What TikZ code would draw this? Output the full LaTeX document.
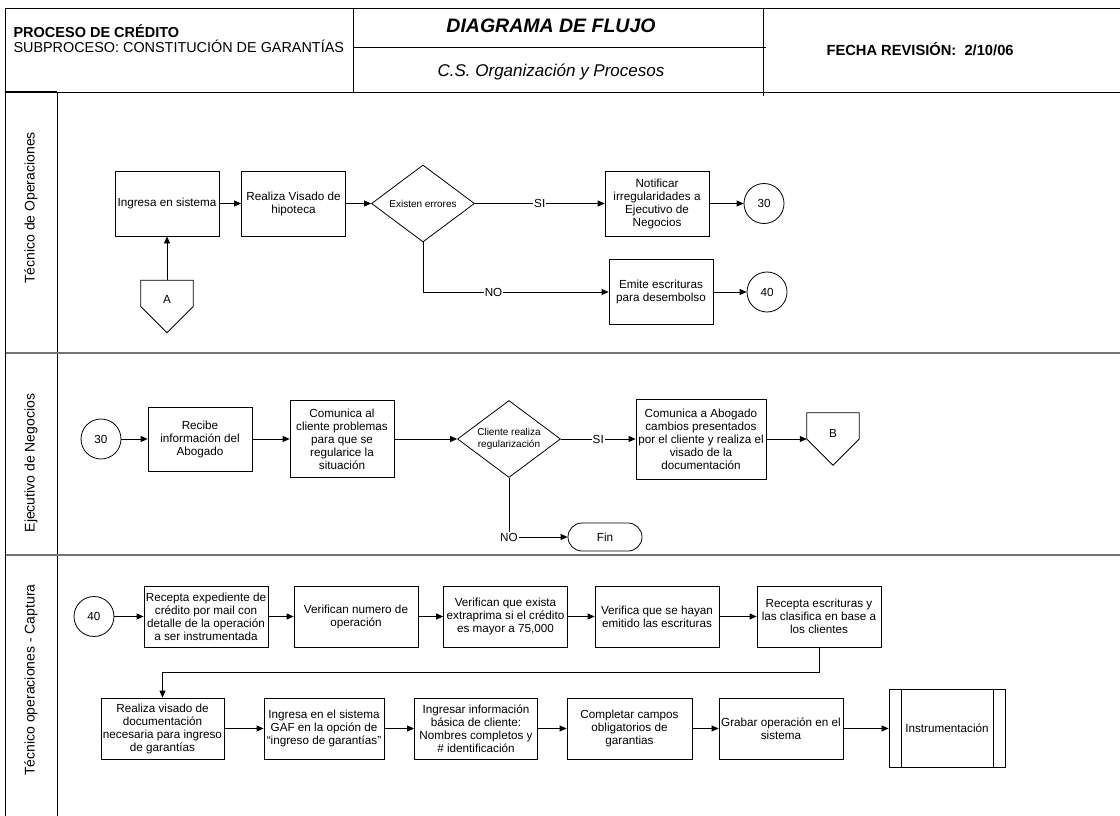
\documentclass[tikz,border=0pt]{standalone}
\usepackage{fontspec}
\setmainfont{Liberation Sans}
\usetikzlibrary{arrows.meta,shapes.geometric,calc}

\begin{document}
\begin{tikzpicture}[x=1pt,y=-1pt,
  font=\fontsize{11.7}{13}\selectfont,
  frame/.style={line width=0.9pt},
  laneline/.style={line width=2pt, draw=black!55},
  flow/.style={-{Triangle[length=7pt,width=6pt]}, line width=0.8pt},
  box/.style={draw, line width=0.8pt, align=center, inner sep=1pt},
  conn/.style={draw, circle, line width=0.8pt, minimum size=40pt, inner sep=0pt},
  decision/.style={draw, diamond, aspect=1.33, inner sep=0pt, line width=0.8pt,
    minimum width=103pt, minimum height=77pt, align=center,
    font=\fontsize{10}{12}\selectfont},
  offpage/.style={minimum width=52pt, minimum height=52pt, inner sep=0pt},
  term/.style={draw, rounded corners=14pt, minimum width=74pt, minimum height=28pt, line width=0.8pt},
  predef/.style={draw, minimum width=116pt, minimum height=78pt, line width=0.8pt},
  lab/.style={fill=white, inner sep=1pt},
  lanetext/.style={rotate=90, font=\fontsize{14}{16}\selectfont},
]
\useasboundingbox (0,0) rectangle (1120,816);

% ---------- header ----------
\draw[frame] (1120,8.5) -- (5.5,8.5) -- (5.5,816);
\draw[frame] (5.5,92) -- (1120,92);
\draw[frame] (353,8.5) -- (353,92);
\draw[frame] (763,8.5) -- (763,96);
\draw[frame] (353,47) -- (766,47);
\draw[line width=1.6pt] (5.5,92) -- (57,92);

\node[anchor=base west, font=\fontsize{14.5}{16}\selectfont\bfseries] (proc) at (10,37.5) {PROCESO DE CRÉDITO};
\node[anchor=base west, font=\fontsize{14.4}{16}\selectfont] (sub) at (10,53) {SUBPROCESO: CONSTITUCIÓN DE GARANTÍAS};
\node[anchor=base, font=\fontsize{19.5}{22}\selectfont\bfseries\itshape] (title) at (551,33) {DIAGRAMA DE FLUJO};
\node[anchor=base, font=\fontsize{17}{20}\selectfont\itshape] (org) at (551,77) {C.S. Organización y Procesos};
\node[anchor=base west, font=\fontsize{14.7}{16}\selectfont\bfseries] (fecha) at (823,56) {FECHA REVISIÓN:\ \ 2/10/06};

% ---------- swimlanes ----------
\draw[frame] (57,92) -- (57,816);
\draw[laneline] (5.5,353) -- (1120,353);
\draw[laneline] (5.5,555) -- (1120,555);

\node[lanetext] (l1) at (31,208) {Técnico de Operaciones};
\node[lanetext] (l2) at (31,463) {Ejecutivo de Negocios};
\node[lanetext] (l3) at (31,680) {Técnico operaciones - Captura};

% ---------- lane 1 ----------
\node[box, minimum width=104pt, minimum height=65pt] (ing) at (167,203.5) {Ingresa en sistema};
\node[box, minimum width=104pt, minimum height=65pt] (vis) at (293.5,203.5) {Realiza Visado de\\hipoteca};
\node[decision] (err) at (423,203.5) {Existen errores};
\node[box, minimum width=104pt, minimum height=65pt] (notif) at (657,203.5) {Notificar\\irregularidades a\\Ejecutivo de\\Negocios};
\node[conn] (c30a) at (764,203.5) {30};
\node[box, minimum width=104pt, minimum height=65pt] (emite) at (661,292) {Emite escrituras\\para desembolso};
\node[conn] (c40a) at (767,292) {40};
\node[offpage, label={[yshift=7pt]center:A}] (A) at (167,306.5) {};
\draw[line width=0.8pt] (A.north west) -- (A.north east) -- (A.east) -- (A.south) -- (A.west) -- cycle;

\draw[flow] (A.north) -- (ing.south);
\draw[flow] (ing) -- (vis);
\draw[flow] (vis) -- (err);
\draw[flow] (err) -- node[lab]{SI} (notif);
\draw[flow] (notif) -- (c30a);
\draw[flow] (err.south) |- node[lab, pos=0.69]{NO} (emite.west);
\draw[flow] (emite) -- (c40a);

% ---------- lane 2 ----------
\node[conn] (c30b) at (101,439) {30};
\node[box, minimum width=104pt, minimum height=64pt] (rec) at (200,439) {Recibe\\información del\\Abogado};
\node[box, minimum width=104pt, minimum height=77pt] (com) at (342,439) {Comunica al\\cliente problemas\\para que se\\regularice la\\situación};
\node[decision] (reg) at (509,439) {Cliente realiza\\regularización};
\node[box, minimum width=130pt, minimum height=80pt] (abog) at (701,439) {Comunica a Abogado\\cambios presentados\\por el cliente y realiza el\\visado de la\\documentación};
\node[offpage, label={[yshift=6pt]center:B}] (B) at (833,439) {};
\draw[line width=0.8pt] (B.north west) -- (B.north east) -- (B.east) -- (B.south) -- (B.west) -- cycle;
\node[term] (fin) at (605,537) {Fin};

\draw[flow] (c30b) -- (rec);
\draw[flow] (rec) -- (com);
\draw[flow] (com) -- (reg);
\draw[flow] (reg) -- node[lab]{SI} (abog);
\draw[flow] (abog) -- (B.west);
\draw[flow] (reg.south) |- node[lab]{NO} (fin.west);

% ---------- lane 3 ----------
\node[conn] (c40b) at (94,616.5) {40};
\node[box, minimum width=124pt, minimum height=61pt] (rexp) at (206,616.5) {Recepta expediente de\\crédito por mail con\\detalle de la operación\\a ser instrumentada};
\node[box, minimum width=124pt, minimum height=61pt] (vnum) at (356,616.5) {Verifican numero de\\operación};
\node[box, minimum width=124pt, minimum height=61pt] (vext) at (505.5,616.5) {Verifican que exista\\extraprima si el crédito\\es mayor a 75,000};
\node[box, minimum width=124pt, minimum height=61pt] (vemi) at (657,616.5) {Verifica que se hayan\\emitido las escrituras};
\node[box, minimum width=124pt, minimum height=61pt] (resc) at (819,616.5) {Recepta escrituras y\\las clasifica en base a\\los clientes};

\node[box, minimum width=123pt, minimum height=61pt] (rvis) at (162.5,728.5) {Realiza visado de\\documentación\\necesaria para ingreso\\de garantías};
\node[box, minimum width=120pt, minimum height=61pt] (gaf) at (324,728.5) {Ingresa en el sistema\\GAF en la opción de\\“ingreso de garantías”};
\node[box, minimum width=123pt, minimum height=61pt] (info) at (476,728.5) {Ingresar información\\básica de cliente:\\Nombres completos y\\\# identificación};
\node[box, minimum width=125pt, minimum height=61pt] (comp) at (629.5,728.5) {Completar campos\\obligatorios de\\garantias};
\node[box, minimum width=124pt, minimum height=61pt] (grab) at (781,728.5) {Grabar operación en el\\sistema};
\node[predef] (instr) at (947,728.5) {Instrumentación};
\draw[line width=0.8pt] ([xshift=13pt]instr.north west) -- ([xshift=13pt]instr.south west);
\draw[line width=0.8pt] ([xshift=-12pt]instr.north east) -- ([xshift=-12pt]instr.south east);

\draw[flow] (c40b) -- (rexp);
\draw[flow] (rexp) -- (vnum);
\draw[flow] (vnum) -- (vext);
\draw[flow] (vext) -- (vemi);
\draw[flow] (vemi) -- (resc);
\draw[flow] (resc.south) -- ++(0,25) -| (rvis.north);
\draw[flow] (rvis) -- (gaf);
\draw[flow] (gaf) -- (info);
\draw[flow] (info) -- (comp);
\draw[flow] (comp) -- (grab);
\draw[flow] (grab) -- (instr);
\end{tikzpicture}
\end{document}
